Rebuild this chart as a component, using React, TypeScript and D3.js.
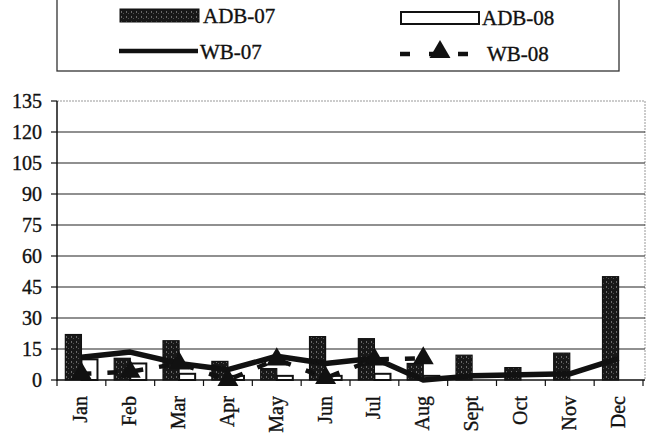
import React from "react";
import * as d3 from "d3";

const months = ["Jan", "Feb", "Mar", "Apr", "May", "Jun", "Jul", "Aug", "Sept", "Oct", "Nov", "Dec"];
const adb07 = [22, 10.5, 19, 9, 5.5, 21, 20, 8, 12, 6, 13, 50];
const adb08 = [10, 8, 3, 2, 2, 2, 3, 2, null, null, null, null];
const wb07 = [11, 13.5, 8, 5, 11.5, 8, 10.5, 0, 2, 2.5, 3, 10.5];
const wb08 = [3, 4, 8, 0, 10, 1, 10, 10.5];
const yTicks = [0, 15, 30, 45, 60, 75, 90, 105, 120, 135];
const seriesNames = ["ADB-07", "ADB-08"];

const W = 659, H = 437;
const font = "\"Liberation Serif\", \"Times New Roman\", serif";

export default function App() {
  const x = d3.scaleBand<string>().domain(months).range([57, 643]).paddingInner(0);
  const xs = d3.scaleBand<string>().domain(seriesNames).range([0, x.bandwidth()]).paddingOuter(0.52);
  const y = d3.scaleLinear().domain([0, 135]).range([380, 101]);
  const cx = (m: string) => (x(m) as number) + x.bandwidth() / 2;

  const line07 = d3.line<number>().x((_, i) => cx(months[i])).y((d) => y(d));
  const wb08Pts = wb08.map((v, i) => [cx(months[i]), y(v)] as [number, number]);
  const line08 = d3.line();

  const tri = d3.symbol().type(d3.symbolTriangle).size(190);
  const txt = { fontFamily: font, fontSize: 20, fill: "#111", stroke: "#111", strokeWidth: 0.35 } as const;
  const ltxt = { ...txt, fontSize: 21 } as const;

  return (
    <div style={{ position: "absolute", left: 0, top: 0 }}>
      <svg width={W} height={H} style={{ display: "block", background: "#fff" }}>
        <defs>
          <pattern id="dark" width="5" height="5" patternUnits="userSpaceOnUse">
            <rect width="5" height="5" fill="#181818" />
            <rect x="1" y="1" width="1" height="2" fill="#6a6a6a" />
            <rect x="3" y="3" width="1" height="1" fill="#505050" />
          </pattern>
        </defs>

        {/* Legend */}
        <rect x={57} y={-5} width={562} height={76} fill="none" stroke="#333" strokeWidth={1.3} />
        <rect x={120} y={9} width={79} height={13} fill="url(#dark)" stroke="#111" strokeWidth={1} />
        <text x={203} y={23} style={ltxt}>ADB-07</text>
        <rect x={401} y={12} width={78} height={12} fill="#fff" stroke="#111" strokeWidth={2} />
        <text x={482} y={25} style={ltxt}>ADB-08</text>
        <line x1={119} x2={198} y1={51} y2={51} stroke="#111" strokeWidth={4.5} />
        <text x={200} y={59} style={ltxt}>WB-07</text>
        <line x1={400} x2={468} y1={54} y2={54} stroke="#111" strokeWidth={4.5} strokeDasharray="10,19" />
        <path d={tri() as string} transform="translate(440,52)" fill="#111" />
        <text x={487} y={61} style={ltxt}>WB-08</text>

        {/* plot border top/right */}
        <line x1={57} x2={645} y1={101} y2={101} stroke="#999" strokeWidth={1} strokeDasharray="2,1" />
        <line x1={645} x2={645} y1={101} y2={380} stroke="#999" strokeWidth={1} strokeDasharray="2,1" />

        {/* gridlines */}
        {yTicks.filter((t) => t > 0 && t < 135).map((t) => (
          <line key={t} x1={57} x2={645} y1={y(t)} y2={y(t)} stroke="#222" strokeWidth={1.2} />
        ))}

        {/* y axis */}
        <line x1={57} x2={57} y1={101} y2={381} stroke="#111" strokeWidth={1.5} />
        {yTicks.map((t) => (
          <g key={t}>
            <line x1={51} x2={57} y1={y(t)} y2={y(t)} stroke="#111" strokeWidth={1.2} />
            <text x={42} y={y(t)} dy="0.35em" textAnchor="end" style={txt}>{t}</text>
          </g>
        ))}

        {/* x axis */}
        <line x1={57} x2={645} y1={380} y2={380} stroke="#111" strokeWidth={1.5} />
        {months.map((m) => (
          <line key={m} x1={x(m) as number} x2={x(m) as number} y1={380} y2={386} stroke="#111" strokeWidth={1.2} />
        ))}
        <line x1={643} x2={643} y1={380} y2={386} stroke="#111" strokeWidth={1.2} />
        {months.map((m) => (
          <text key={m} transform={`translate(${cx(m) - 1},396) rotate(-90)`} dy="0.35em" textAnchor="end" style={txt}>{m}</text>
        ))}

        {/* bars */}
        {months.map((m, i) => {
          const x0 = x(m) as number;
          const a = adb07[i];
          const b = adb08[i];
          return (
            <g key={m}>
              {b != null && (
                <rect x={x0 + (xs("ADB-08") as number)} y={y(b)} width={xs.bandwidth()} height={380 - y(b)}
                  fill="#fff" stroke="#111" strokeWidth={2} />
              )}
              <rect x={x0 + (xs("ADB-07") as number)} y={y(a)} width={xs.bandwidth()} height={380 - y(a)}
                fill="url(#dark)" stroke="#111" strokeWidth={1.2} />
            </g>
          );
        })}

        {/* WB-07 */}
        <path d={line07(wb07) as string} fill="none" stroke="#111" strokeWidth={5.5} strokeLinejoin="round" />

        {/* WB-08 */}
        <path d={line08(wb08Pts) as string} fill="none" stroke="#111" strokeWidth={4.5} strokeDasharray="10,16" />
        {wb08Pts.map((p, i) => (
          <path key={i} d={tri() as string} transform={`translate(${p[0]},${p[1]})`} fill="#111" />
        ))}
      </svg>
    </div>
  );
}
